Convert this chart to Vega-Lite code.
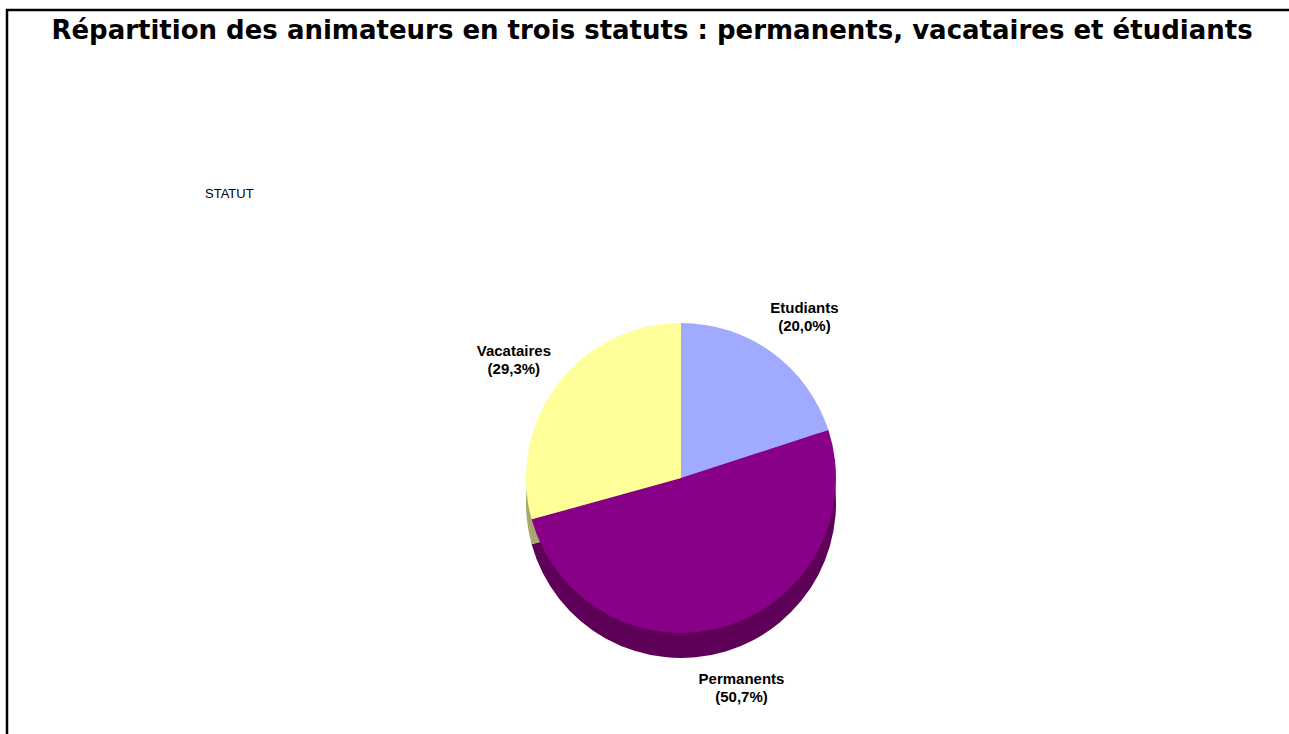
{
  "$schema": "https://vega.github.io/schema/vega-lite/v6.json",
  "autosize": {"type": "none"},
  "width": 1290,
  "height": 730,
  "padding": {"left": 7, "top": 10, "right": -8, "bottom": -6},
  "background": "white",
  "view": {"stroke": "black", "strokeWidth": 2.5, "fill": "white"},
  "config": {
    "view": {"stroke": "black", "strokeWidth": 2.5},
    "font": "Liberation Sans"
  },
  "title": {
    "text": "Répartition des animateurs en trois statuts : permanents, vacataires et étudiants",
    "font": "DejaVu Sans",
    "fontSize": 26,
    "fontWeight": "bold",
    "color": "black",
    "anchor": "middle",
    "offset": -34,
    "zindex": 1
  },
  "data": {
    "values": [
      {"statut": "Etudiants", "part": 20.0, "ordre": 1, "label": "Etudiants\n(20,0%)"},
      {"statut": "Permanents", "part": 50.7, "ordre": 2, "label": "Permanents\n(50,7%)"},
      {"statut": "Vacataires", "part": 29.3, "ordre": 3, "label": "Vacataires\n(29,3%)"}
    ]
  },
  "layer": [
    {
      "mark": {"type": "arc", "outerRadius": 155, "xOffset": 29, "yOffset": 128},
      "encoding": {
        "theta": {"field": "part", "type": "quantitative", "stack": true},
        "order": {"field": "ordre", "type": "quantitative"},
        "color": {
          "field": "statut",
          "type": "nominal",
          "scale": {"domain": ["Etudiants", "Permanents", "Vacataires"], "range": ["#6A76B0", "#5E0058", "#ABA86B"]},
          "legend": null
        }
      }
    },
    {
      "mark": {"type": "arc", "outerRadius": 155, "xOffset": 29, "yOffset": 103},
      "encoding": {
        "theta": {"field": "part", "type": "quantitative", "stack": true},
        "order": {"field": "ordre", "type": "quantitative"},
        "color": {
          "field": "statut",
          "type": "nominal",
          "scale": {"domain": ["Etudiants", "Permanents", "Vacataires"], "range": ["#A0ABFF", "#880088", "#FFFF99"]},
          "legend": {
            "title": "STATUT",
            "orient": "none",
            "legendX": 198,
            "legendY": 178,
            "titleFont": "Liberation Sans",
            "titleFontWeight": "normal",
            "titleFontSize": 13,
            "titleColor": "black",
            "symbolOpacity": 0,
            "labelOpacity": 0,
            "symbolStrokeWidth": 0
          }
        }
      }
    },
    {
      "mark": {"type": "text", "radius": 210, "xOffset": 29, "yOffset": 103, "lineBreak": "\n", "fontWeight": "bold", "fontSize": 15, "font": "Liberation Sans", "color": "black", "lineHeight": 18},
      "encoding": {
        "theta": {"field": "part", "type": "quantitative", "stack": true},
        "order": {"field": "ordre", "type": "quantitative"},
        "text": {"field": "label", "type": "nominal"}
      }
    }
  ],
  "resolve": {"scale": {"color": "independent"}}
}
